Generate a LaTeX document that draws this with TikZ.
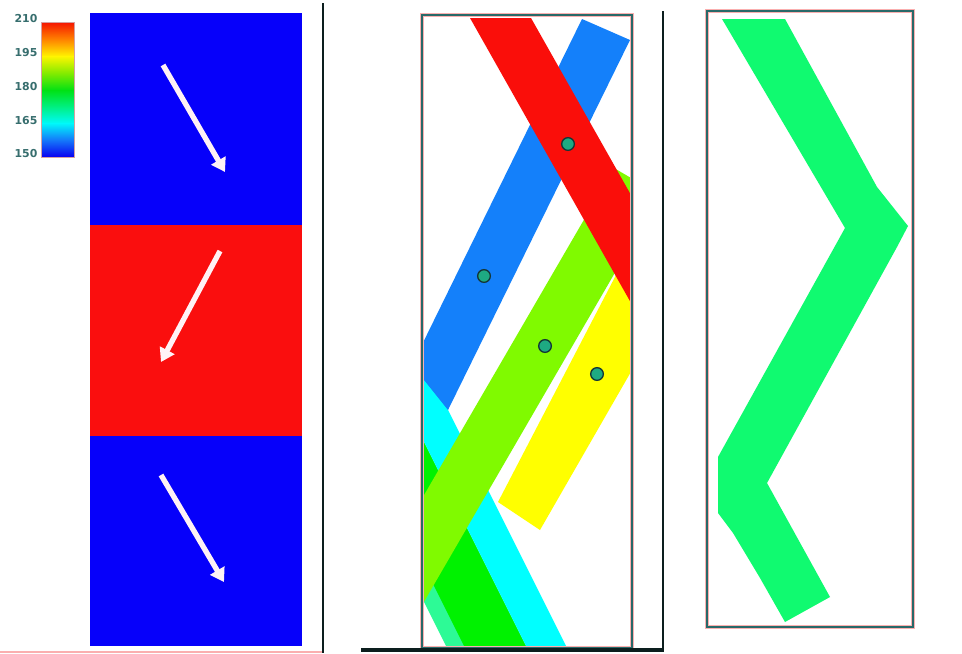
\documentclass[tikz,border=0pt]{standalone}
\usepackage{fontspec}
\newfontfamily\lblfont{DejaVu Sans}
\usetikzlibrary{arrows.meta}
\definecolor{pblue}{RGB}{6,0,250}
\definecolor{pred}{RGB}{250,14,14}
\definecolor{sred}{RGB}{250,14,10}
\definecolor{sblue}{RGB}{20,128,250}
\definecolor{slime}{RGB}{128,250,0}
\definecolor{syellow}{RGB}{255,255,0}
\definecolor{scyan}{RGB}{0,255,255}
\definecolor{sgreen}{RGB}{0,242,0}
\definecolor{smint}{RGB}{45,250,150}
\definecolor{zig}{RGB}{16,250,112}
\definecolor{teal1}{RGB}{40,105,105}
\definecolor{halo}{RGB}{250,175,175}
\definecolor{lbl}{RGB}{55,110,110}
\definecolor{dotfill}{RGB}{30,170,130}
\definecolor{dotline}{RGB}{20,55,55}
\definecolor{arrw}{RGB}{255,242,246}
\definecolor{darkedge}{RGB}{12,30,30}
\begin{document}
\begin{tikzpicture}[x=0.75pt,y=-0.75pt,
  halostyle/.style={draw=halo, line width=2.4pt},
  framestyle/.style={draw=teal1, line width=1pt},
  flowarrow/.style={draw=arrw, line width=4pt, -{Triangle[width=12pt,length=10pt]}},
  wellpt/.style={circle, fill=dotfill, draw=dotline, line width=1pt, minimum size=9.5pt, inner sep=0pt},
  tick/.style={font=\lblfont\bfseries\fontsize{8.2}{9}\selectfont, text=lbl, inner sep=0pt}]
\useasboundingbox (0,0) rectangle (962,653);
\fill[white] (0,0) rectangle (962,653);

% ---------------- left panel ----------------
\fill[pblue] (90,13) rectangle (302,226);
\fill[pred] (90,225) rectangle (302,437);
\fill[pblue] (90,436) rectangle (302,646);
\draw[halo, line width=0.8pt] (0,652) -- (322,652);
\draw[darkedge, line width=2pt] (323,3) -- (323,653);

% colour bar
\shade[top color={rgb,255:red,245;green,20;blue,0}, bottom color={rgb,255:red,255;green,245;blue,0}, middle color={rgb,255:red,255;green,130;blue,0}] (41,22) rectangle (74,56.5);
\shade[top color={rgb,255:red,255;green,245;blue,0}, bottom color={rgb,255:red,0;green,225;blue,20}, middle color={rgb,255:red,130;green,235;blue,0}] (41,56) rectangle (74,90.5);
\shade[top color={rgb,255:red,0;green,225;blue,20}, bottom color={rgb,255:red,0;green,250;blue,250}, middle color={rgb,255:red,0;green,240;blue,130}] (41,90) rectangle (74,123.5);
\shade[top color={rgb,255:red,0;green,250;blue,250}, bottom color={rgb,255:red,10;green,0;blue,240}, middle color={rgb,255:red,20;green,120;blue,250}] (41,123) rectangle (74,157);
\draw[halo!70!gray, line width=0.5pt] (41,22) rectangle (74,157);
\node[tick] (t210) at (26,19) {210};
\node[tick] (t195) at (26,53) {195};
\node[tick] (t180) at (26,87) {180};
\node[tick] (t165) at (26,121) {165};
\node[tick] (t150) at (26,154) {150};

% flow arrows
\coordinate (a1s) at (163,65);  \coordinate (a1e) at (225,172);
\coordinate (a2s) at (220,251); \coordinate (a2e) at (161,362);
\coordinate (a3s) at (161,475); \coordinate (a3e) at (224,582);
\draw[flowarrow] (a1s) -- (a1e);
\draw[flowarrow] (a2s) -- (a2e);
\draw[flowarrow] (a3s) -- (a3e);

% ---------------- middle panel ----------------
\begin{scope}
\clip (422,15) rectangle (632,648);
\fill[smint] (273,300) -- (301,300) -- (481,660) -- (453,660) -- cycle;
\fill[sgreen] (291,300) -- (353,300) -- (533,660) -- (471,660) -- cycle;
\fill[scyan] (353,300) -- (393,300) -- (573,660) -- (533,660) -- cycle;
\fill[sblue] (582,19) -- (630,40) -- (448,410) -- (412,365) -- cycle;
\fill[slime] (614,168) -- (660,195) -- (367,700) -- (305,700) -- cycle;
\fill[syellow] (629,250) -- (701,250) -- (540,530) -- (498,502) -- cycle;
\fill[sred] (470,18) -- (531,18) -- (757,418) -- (696,418) -- cycle;
\end{scope}
\draw[halostyle] (422,15) rectangle (632,648);
\draw[framestyle] (422,15) rectangle (632,648);
\node[wellpt] (w1) at (568,144) {};
\node[wellpt] (w2) at (484,276) {};
\node[wellpt] (w3) at (545,346) {};
\node[wellpt] (w4) at (597,374) {};
\draw[darkedge, line width=1.6pt] (663,11) -- (663,651);
\draw[darkedge, line width=2.4pt] (361,650) -- (664,650);

% ---------------- right panel ----------------
\fill[zig] (722,19) -- (785,19) -- (877,187) -- (908,226) -- (897,247)
  -- (767,483) -- (830,597) -- (785,622)
  -- (760,578) -- (733,533) -- (718,513) -- (718,457)
  -- (845,228) -- cycle;
\draw[halostyle] (707,11) rectangle (913,627);
\draw[framestyle] (707,11) rectangle (913,627);
\end{tikzpicture}
\end{document}
